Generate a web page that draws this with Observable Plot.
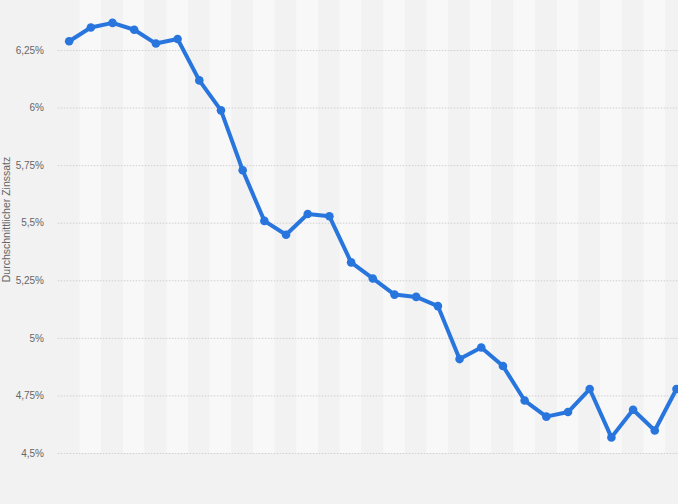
<!DOCTYPE html>
<html>
<head>
<meta charset="utf-8">
<script src="https://cdn.jsdelivr.net/npm/d3@7"></script>
<script src="https://cdn.jsdelivr.net/npm/@observablehq/plot@0.6"></script>
<style>
  html, body { margin: 0; padding: 0; background: #f2f2f2; overflow: hidden; }
  #chart svg { display: block; background: #f2f2f2; }
</style>
</head>
<body>
<div id="chart"></div>
<script>
// Periods (no x labels visible in the reference)
const periods = [1,2,3,4,5,6,7,8,9,10,11,12,13,14,15,16,17,18,19,20,21,22,23,24,25,26,27,28,29];
// Average interest rate in %
const rates = [6.29,6.35,6.37,6.34,6.28,6.30,6.12,5.99,5.73,5.51,5.45,5.54,5.53,5.33,5.26,5.19,5.18,5.14,4.91,4.96,4.88,4.73,4.66,4.68,4.78,4.57,4.69,4.60,4.78];
const yTicks = [4.5,4.75,5,5.25,5.5,5.75,6,6.25];
const yTickLabels = ["4,5%","4,75%","5%","5,25%","5,5%","5,75%","6%","6,25%"];
const yLabel = "Durchschnittlicher Zinssatz";

const data = periods.map((p, i) => ({i, period: p, rate: rates[i]}));

const W = 678, H = 504;
const marginLeft = 57.8, marginBottom = 51;
const step = 21.69;
const xMax = (W - marginLeft) / step - 0.5;
const yMin = 4.5, yMax = 4.5 + (H - marginBottom) / 230.3;

const chart = Plot.plot({
  width: W,
  height: H,
  marginLeft,
  marginRight: 0,
  marginTop: 0,
  marginBottom,
  style: {background: "#f2f2f2", fontFamily: "'Liberation Sans', Arial, sans-serif"},
  x: {type: "linear", domain: [-0.5, xMax], axis: null},
  y: {domain: [yMin, yMax], axis: null},
  marks: [
    Plot.rectY(data, {
      x1: d => d.i - 0.5,
      x2: d => d.i + 0.5,
      y1: yMin,
      y2: yMax,
      fill: d => d.i % 2 ? "#f8f8f8" : "#f2f2f2"
    }),
    Plot.ruleY(yTicks, {stroke: "#cfcfcf", strokeWidth: 1, strokeDasharray: "1.5,1.5"}),
    Plot.axisY(yTicks, {
      tickFormat: (d) => yTickLabels[yTicks.indexOf(d)],
      tickSize: 0,
      tickPadding: 14.3,
      fontSize: 10,
      fill: "#666",
      label: null
    }),
    Plot.text([yLabel], {
      frameAnchor: "left",
      textAnchor: "middle",
      rotate: -90,
      dx: -52,
      dy: -7.5,
      fontSize: 10.5,
      fill: "#666"
    }),
    Plot.line(data, {x: "i", y: "rate", stroke: "#2876dd", strokeWidth: 4, strokeLinejoin: "round", strokeLinecap: "round"}),
    Plot.dot(data, {x: "i", y: "rate", r: 4.3, fill: "#2876dd", stroke: "none"})
  ]
});
document.getElementById("chart").appendChild(chart);
</script>
</body>
</html>
